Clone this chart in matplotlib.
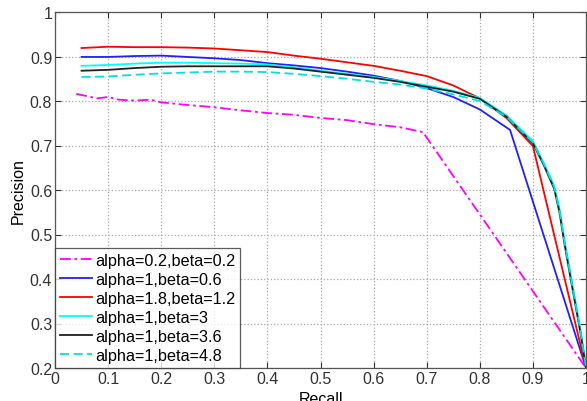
import numpy as np
import matplotlib
matplotlib.use("Agg")
import matplotlib.pyplot as plt

plt.rcParams['font.family'] = ['Liberation Sans', 'DejaVu Sans']

# alpha=0.2, beta=0.2
recall_a = [0.04, 0.06, 0.08, 0.1, 0.12, 0.15, 0.18, 0.2, 0.25, 0.3, 0.35, 0.4,
            0.45, 0.5, 0.55, 0.6, 0.65, 0.693, 1.0]
prec_a = [0.816, 0.811, 0.806, 0.809, 0.803, 0.801, 0.803, 0.797, 0.791, 0.786,
          0.779, 0.773, 0.769, 0.762, 0.757, 0.748, 0.741, 0.730, 0.2]

# alpha=1, beta=0.6
recall_b = [0.05, 0.1, 0.15, 0.2, 0.25, 0.3, 0.35, 0.4, 0.45, 0.5, 0.55, 0.6,
            0.65, 0.7, 0.75, 0.8, 0.857, 1.0]
prec_b = [0.899, 0.899, 0.901, 0.902, 0.899, 0.896, 0.892, 0.885, 0.88, 0.874,
          0.866, 0.857, 0.845, 0.829, 0.809, 0.781, 0.735, 0.2]

# alpha=1.8, beta=1.2
recall_c = [0.05, 0.1, 0.15, 0.2, 0.25, 0.3, 0.35, 0.4, 0.45, 0.5, 0.55, 0.6,
            0.65, 0.7, 0.75, 0.8, 0.85, 0.9, 1.0]
prec_c = [0.919, 0.922, 0.921, 0.921, 0.92, 0.918, 0.914, 0.91, 0.902, 0.895,
          0.887, 0.879, 0.868, 0.856, 0.835, 0.806, 0.762, 0.699, 0.2]

# shared recall grid for the last three
recall_d = [0.05, 0.1, 0.15, 0.2, 0.25, 0.3, 0.35, 0.4, 0.45, 0.5, 0.55, 0.6,
            0.65, 0.7, 0.75, 0.8, 0.85, 0.9, 0.92, 0.94, 0.95, 0.96, 0.97,
            0.98, 0.99, 1.0]
prec_beta3 = [0.879, 0.881, 0.884, 0.886, 0.886, 0.885, 0.884, 0.882, 0.876,
              0.868, 0.861, 0.854, 0.845, 0.835, 0.823, 0.807, 0.768, 0.71,
              0.662, 0.61, 0.56, 0.485, 0.418, 0.352, 0.285, 0.205]
prec_beta36 = [0.868, 0.870, 0.874, 0.877, 0.878, 0.878, 0.878, 0.878, 0.873,
               0.866, 0.859, 0.852, 0.843, 0.832, 0.821, 0.805, 0.765, 0.705,
               0.657, 0.603, 0.55, 0.475, 0.408, 0.342, 0.276, 0.2]
prec_beta48 = [0.854, 0.855, 0.859, 0.862, 0.864, 0.866, 0.866, 0.865, 0.861,
               0.856, 0.85, 0.843, 0.837, 0.828, 0.815, 0.8, 0.765, 0.707,
               0.66, 0.607, 0.555, 0.48, 0.413, 0.347, 0.28, 0.2]

labels = ['alpha=0.2,beta=0.2', 'alpha=1,beta=0.6', 'alpha=1.8,beta=1.2',
          'alpha=1,beta=3', 'alpha=1,beta=3.6', 'alpha=1,beta=4.8']

fig = plt.figure(figsize=(5.87, 4.02), dpi=100)
ax = fig.add_axes([55 / 587, 33 / 402, 531 / 587, 356 / 402])

lw = 1.3
ax.plot(recall_a, prec_a, color='#ff00ff', ls=(0, (6, 2, 1.5, 2)), lw=lw, label=labels[0])
ax.plot(recall_b, prec_b, color='#2020ff', lw=lw, label=labels[1])
ax.plot(recall_c, prec_c, color='#ff0000', lw=lw, label=labels[2])
ax.plot(recall_d, prec_beta3, color='#00ffff', lw=lw, label=labels[3])
ax.plot(recall_d, prec_beta36, color='#202020', lw=lw, label=labels[4])
ax.plot(recall_d, prec_beta48, color='#00e0e0', ls=(0, (5, 2.5)), lw=lw, label=labels[5])

ax.set_xlim(0, 1)
ax.set_ylim(0.2, 1)
ax.set_xticks(np.arange(0, 1.01, 0.1))
ax.set_yticks(np.arange(0.2, 1.01, 0.1))
ax.set_xticklabels(['0', '0.1', '0.2', '0.3', '0.4', '0.5', '0.6', '0.7', '0.8', '0.9', '1'])
ax.set_yticklabels(['0.2', '0.3', '0.4', '0.5', '0.6', '0.7', '0.8', '0.9', '1'])
ax.tick_params(direction='in', top=True, right=True, length=4, width=0.8,
               labelsize=11.5, pad=2, colors='#333333')
ax.grid(True, ls=':', color='#aaaaaa', lw=0.9)
for s in ax.spines.values():
    s.set_color('#555555')
    s.set_linewidth(0.9)

ax.set_xlabel('Recall', fontsize=11.5, labelpad=4)
ax.set_ylabel('Precision', fontsize=11.5, labelpad=3)

leg = ax.legend(loc='lower left', fontsize=11.7, frameon=True, fancybox=False,
                borderaxespad=0, handlelength=2.0, handletextpad=0.15,
                labelspacing=0.25, borderpad=0.3)
leg.get_frame().set_edgecolor('#333333')
leg.get_frame().set_linewidth(0.9)

fig.savefig('out.png', dpi=100)
